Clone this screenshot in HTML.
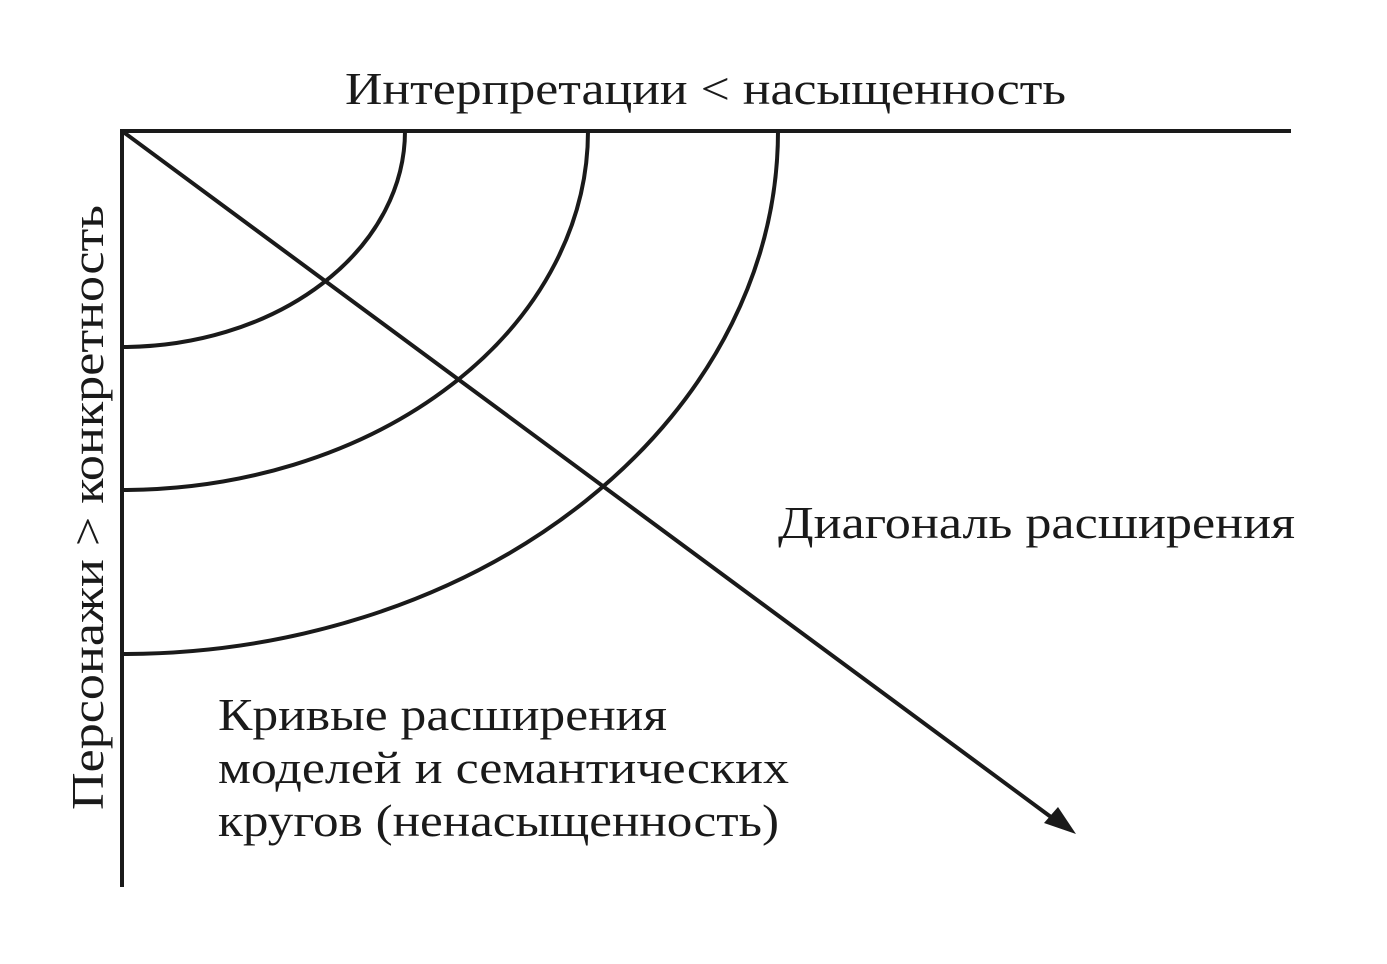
<!DOCTYPE html>
<html><head><meta charset="utf-8"><style>html,body{margin:0;padding:0;background:#fff}svg{display:block}</style></head>
<body>
<svg width="1387" height="964" viewBox="0 0 1387 964" xmlns="http://www.w3.org/2000/svg">
<g fill="none" stroke="#1a1a1a" stroke-width="4">
<line x1="122" y1="129" x2="122" y2="887"/>
<line x1="120" y1="131" x2="1291" y2="131"/>
<path d="M405,131 A283,216 0 0 1 122,347"/>
<path d="M588,131 A466,359 0 0 1 122,490"/>
<path d="M778,131 A656,523 0 0 1 122,654"/>
<line x1="122" y1="131" x2="1055" y2="820"/>
</g>
<polygon points="1076,834 1044,823 1058,807" fill="#1a1a1a"/>
<g font-family="Liberation Serif, serif" font-size="46" fill="#1a1a1a">
<text x="345" y="104" textLength="721" lengthAdjust="spacingAndGlyphs">Интерпретации &lt; насыщенность</text>
<text x="778" y="538" textLength="517" lengthAdjust="spacingAndGlyphs">Диагональ расширения</text>
<text x="218" y="730" textLength="449" lengthAdjust="spacingAndGlyphs">Кривые расширения</text>
<text x="218" y="783" textLength="571" lengthAdjust="spacingAndGlyphs">моделей и семантических</text>
<text x="218" y="836" textLength="561" lengthAdjust="spacingAndGlyphs">кругов (ненасыщенность)</text>
<text transform="translate(103,810) rotate(-90)" textLength="605" lengthAdjust="spacingAndGlyphs">Персонажи &gt; конкретность</text>
</g>
</svg>
</body></html>
